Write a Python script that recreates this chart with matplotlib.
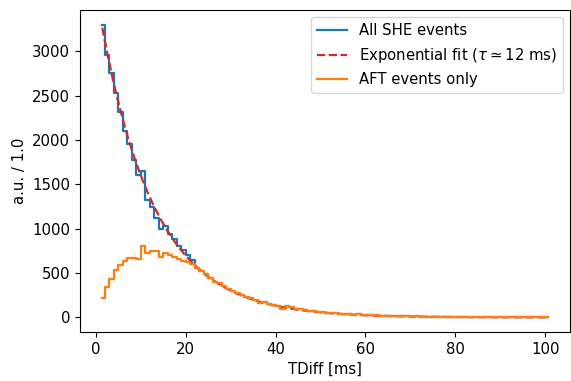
import numpy as np
import matplotlib
matplotlib.use("Agg")
import matplotlib.pyplot as plt

plt.rcParams["font.size"] = 10.7

# Bin centres of the 1 ms TDiff histogram
tdiff = np.arange(1.5, 101.0, 1.0)

# Counts per bin, AFT-tagged events only
aft_counts = [
    222, 342, 436, 534, 586, 635, 672, 672, 655, 800,
    722, 748, 752, 685, 730, 705, 684, 662, 635, 630,
    605, 555, 522, 485, 445, 405, 383, 355, 320, 295,
    280, 255, 235, 215, 200, 160, 172, 150, 145, 130,
    100, 125, 118, 100, 95, 80, 72, 68, 62, 58,
    55, 48, 45, 42, 40, 36, 33, 38, 30, 26,
    24, 22, 20, 18, 16, 15, 18, 13, 12, 10,
    11, 9, 8, 9, 7, 8, 6, 7, 5, 6,
    5, 4, 6, 4, 5, 3, 4, 4, 3, 5,
    3, 2, 3, 2, 3, 2, 2, 3, 1, 2,
]

# Counts per bin for all SHE events (early bins; later bins coincide with AFT)
she_early = [
    3300, 2955, 2760, 2530, 2310, 2100, 1950, 1780, 1605, 1645,
    1320, 1240, 1120, 1000, 1030, 936, 880, 810, 755, 700,
    645,
]
she_counts = she_early + aft_counts[len(she_early):]

# Exponential fit parameters
fit_amplitude = 3700.0
fit_tau = 12.0

fig = plt.figure(figsize=(5.71, 3.81), dpi=100)
ax = fig.add_axes([80 / 571, 1 - 332 / 381, 490 / 571, 322 / 381])

ax.plot(tdiff, she_counts, drawstyle="steps-mid", color="tab:blue",
        lw=1.6, label="All SHE events")
fit_curve = fit_amplitude * np.exp(-tdiff / fit_tau)
ax.plot(tdiff, fit_curve, "--", color="tab:red", lw=1.6,
        label=r"Exponential fit ($\tau \simeq 12$ ms)")
ax.plot(tdiff, aft_counts, drawstyle="steps-mid", color="tab:orange",
        lw=1.6, label="AFT events only")

ax.set_yticks(np.arange(0, 3001, 500))
ax.set_xlabel("TDiff [ms]")
ax.set_ylabel("a.u. / 1.0")
ax.legend(loc="upper right")

fig.savefig("out.png", dpi=100)
